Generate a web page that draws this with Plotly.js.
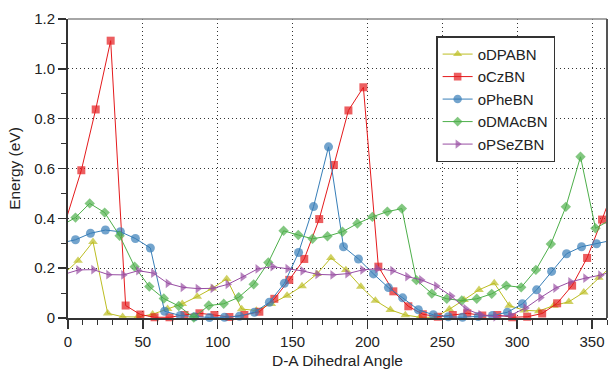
<!DOCTYPE html>
<html>
<head>
<meta charset="utf-8">
<script src="https://cdn.plot.ly/plotly-3.0.1.min.js"></script>
<style>
html,body{margin:0;padding:0;background:#fff;}
#chart{width:608px;height:369px;}
</style>
</head>
<body>
<div id="chart"></div>
<script>
// Series names
const seriesNames = ["oDPABN", "oCzBN", "oPheBN", "oDMAcBN", "oPSeZBN"];

// oDPABN
const dpaX = [-5.5, 6.7, 16.7, 26.5, 36.5, 46.5, 56.5, 66.5, 76.3, 86.3, 96.3, 106, 116, 125.8, 135.8, 146.3, 156.3, 166.3, 175.6, 185.6, 195.6, 205.3, 215.3, 225.3, 235, 245, 254.7, 264.5, 274.5, 284.7, 294.7, 304.7, 314.5, 324.5, 334.5, 344.5, 354.5, 366.7];
const dpaY = [0.162, 0.23, 0.306, 0.019, 0.005, 0.004, 0.015, 0.037, 0.057, 0.086, 0.119, 0.157, 0.036, 0.03, 0.057, 0.09, 0.128, 0.177, 0.241, 0.193, 0.126, 0.07, 0.033, 0.012, 0.003, 0.003, 0.035, 0.073, 0.113, 0.14, 0.05, 0.031, 0.028, 0.05, 0.065, 0.103, 0.162, 0.23];

// oCzBN
const czX = [-1.3, 8.9, 18.5, 28.5, 38.5, 48.3, 57.8, 67.8, 77.8, 87.8, 97.8, 107.8, 117.8, 127.8, 137.8, 147.8, 157.8, 167.8, 177.6, 187.3, 197.3, 207.3, 217.3, 227.3, 237, 247, 257, 266.7, 276.7, 286.7, 296.7, 306.7, 316.7, 326.7, 336.7, 346.7, 356.7, 368.9];
const czY = [0.395, 0.593, 0.837, 1.113, 0.05, 0.014, 0.003, 0.003, 0.012, 0.019, 0.012, 0.004, 0.012, 0.025, 0.077, 0.153, 0.237, 0.397, 0.614, 0.833, 0.926, 0.206, 0.107, 0.047, 0.015, 0.005, 0.012, 0.019, 0.01, 0.012, 0.003, 0.005, 0.018, 0.059, 0.13, 0.241, 0.395, 0.593];

// oPheBN
const pheX = [-7, 5, 15, 25, 35, 45, 55, 64.5, 75, 84.5, 94.5, 104.5, 114.5, 124.5, 134.5, 144.5, 154, 164, 174, 184, 194, 204, 214, 223.5, 234, 244, 254, 263.5, 274, 283.5, 293.5, 303.5, 313, 323, 333, 343, 353, 365];
const pheY = [0.298, 0.314, 0.34, 0.353, 0.346, 0.319, 0.281, 0.027, 0.01, 0.005, 0.002, 0.003, 0.007, 0.023, 0.063, 0.139, 0.263, 0.447, 0.687, 0.286, 0.237, 0.177, 0.122, 0.081, 0.033, 0.013, 0.005, 0.003, 0.006, 0.01, 0.023, 0.057, 0.113, 0.187, 0.258, 0.286, 0.298, 0.314];

// oDMAcBN
const dmaX = [-7.7, 5, 14.5, 24.5, 34.5, 44.5, 54.3, 64, 74, 84, 94, 104, 114, 124, 133.8, 144, 153.8, 163.3, 173.3, 183.3, 193.3, 203.3, 213.3, 223, 232.7, 243, 253, 263, 273, 283, 292.7, 302.7, 312.5, 322.5, 332.5, 342.3, 352.3, 365];
const dmaY = [0.36, 0.403, 0.46, 0.423, 0.33, 0.206, 0.126, 0.078, 0.048, 0.002, 0.05, 0.057, 0.083, 0.135, 0.223, 0.35, 0.333, 0.318, 0.328, 0.346, 0.379, 0.406, 0.427, 0.439, 0.152, 0.098, 0.077, 0.07, 0.077, 0.097, 0.13, 0.123, 0.193, 0.297, 0.446, 0.647, 0.36, 0.403];

// oPSeZBN
const pseX = [-4.4, 7, 17, 27, 37, 47, 57, 66.7, 76.7, 86.7, 96.7, 106.7, 116.7, 126.7, 136.7, 146.7, 156.7, 166.7, 176.7, 186.7, 196.7, 206.7, 216.7, 226.7, 236, 246, 256, 265.6, 275.6, 285.6, 295.6, 305.6, 315.6, 325.6, 335.6, 345.6, 355.6, 367];
const pseY = [0.172, 0.193, 0.194, 0.174, 0.173, 0.19, 0.18, 0.139, 0.123, 0.118, 0.119, 0.135, 0.165, 0.197, 0.206, 0.198, 0.189, 0.175, 0.173, 0.178, 0.193, 0.198, 0.19, 0.166, 0.153, 0.128, 0.088, 0.037, 0.013, 0.005, 0.011, 0.04, 0.082, 0.12, 0.145, 0.16, 0.172, 0.193];

// Axis ticks
const xTickVals = [0, 50, 100, 150, 200, 250, 300, 350];
const yTickVals = [0, 0.2, 0.4, 0.6, 0.8, 1.0, 1.2];
const yTickText = ["0", "0.2", "0.4", "0.6", "0.8", "1.0", "1.2"];

const FONT = "Liberation Sans, Arial, Helvetica, sans-serif";
const styles = [
  {color: "#bcbd22", symbol: "triangle-up", size: 8.5},
  {color: "#e41a1c", symbol: "square", size: 8},
  {color: "#377eb8", symbol: "circle", size: 9},
  {color: "#4daf4a", symbol: "diamond", size: 8},
  {color: "#984ea3", symbol: "triangle-right", size: 8.5}
];
const xs = [dpaX, czX, pheX, dmaX, pseX];
const ys = [dpaY, czY, pheY, dmaY, pseY];

const traces = seriesNames.map((name, i) => ({
  type: "scatter",
  mode: "lines+markers",
  name: name,
  x: xs[i],
  y: ys[i],
  cliponaxis: false,
  line: {color: styles[i].color, width: 1},
  marker: {
    color: styles[i].color,
    symbol: styles[i].symbol,
    size: xs[i].map(v => (v < 0 || v > 360) ? 0 : styles[i].size),
    line: {width: 0}
  }
}));

const layout = {
  width: 608,
  height: 369,
  margin: {l: 68, r: 1, t: 19, b: 51},
  paper_bgcolor: "#fff",
  plot_bgcolor: "#fff",
  font: {family: FONT, size: 15, color: "#222"},
  showlegend: true,
  legend: {
    x: 0.683, y: 0.942, xanchor: "left", yanchor: "top",
    bgcolor: "#fff", bordercolor: "#333", borderwidth: 1.5,
    font: {family: FONT, size: 15, color: "#222"},
    tracegroupgap: 0
  },
  xaxis: {
    range: [0, 360],
    tickvals: xTickVals,
    ticks: "outside", ticklen: 9, tickwidth: 1.5, tickcolor: "#333",
    minor: {dtick: 10, ticks: "outside", ticklen: 5, tickwidth: 1, tickcolor: "#333", showgrid: false},
    showline: true, linecolor: "#333", linewidth: 2,
    showgrid: true, gridcolor: "#333", gridwidth: 1, griddash: "1px,3px",
    zeroline: false,
    tickfont: {family: FONT, size: 15, color: "#222"},
    title: {text: "D-A Dihedral Angle", font: {family: FONT, size: 15.5, color: "#222"}, standoff: 8}
  },
  yaxis: {
    range: [0, 1.2],
    tickvals: yTickVals, ticktext: yTickText,
    ticks: "outside", ticklen: 8, tickwidth: 1.5, tickcolor: "#333",
    minor: {dtick: 0.1, ticks: "outside", ticklen: 5, tickwidth: 1, tickcolor: "#333", showgrid: false},
    showline: true, linecolor: "#333", linewidth: 2,
    showgrid: true, gridcolor: "#333", gridwidth: 1, griddash: "1px,3px",
    zeroline: false,
    tickfont: {family: FONT, size: 15, color: "#222"},
    title: {text: "Energy (eV)", font: {family: FONT, size: 15.5, color: "#222"}, standoff: 10}
  },
  shapes: [
    {type: "line", xref: "paper", yref: "paper", x0: 0, x1: 1, y0: 1, y1: 1, line: {color: "#888", width: 1.5}},
    {type: "line", xref: "paper", yref: "paper", x0: 1, x1: 1, y0: 0, y1: 1, line: {color: "#555", width: 2}}
  ]
};

Plotly.newPlot("chart", traces, layout, {displayModeBar: false, staticPlot: true});
</script>
</body>
</html>
